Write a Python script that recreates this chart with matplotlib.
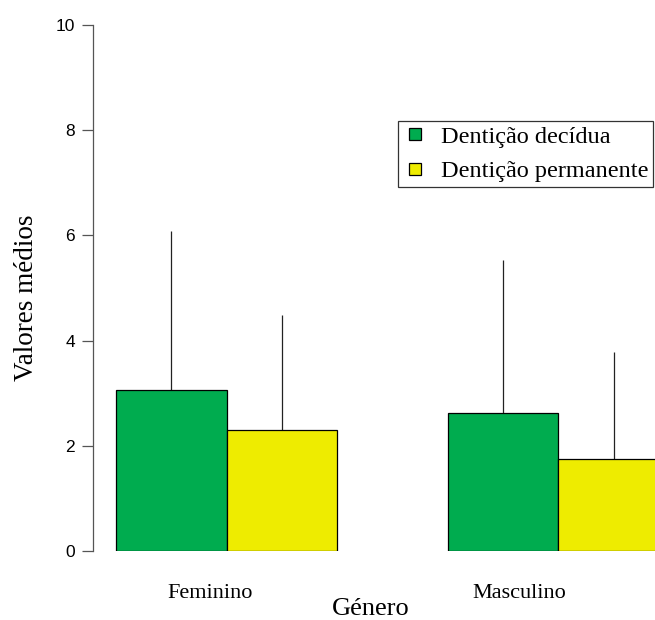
import numpy as np
import matplotlib.pyplot as plt
from matplotlib.lines import Line2D

generos = ['Feminino', 'Masculino']
series = ['Dentição decídua', 'Dentição permanente']
medias = {
    'Dentição decídua': [3.06, 2.63],
    'Dentição permanente': [2.30, 1.75],
}
limite_sup = {
    'Dentição decídua': [6.08, 5.53],
    'Dentição permanente': [4.49, 3.78],
}
cores = ['#00ac4f', '#eeec00']
yticks = [0, 2, 4, 6, 8, 10]

W, H = 655, 620
fig = plt.figure(figsize=(W / 100, H / 100), dpi=100)
ax = fig.add_axes([93 / W, 69 / H, 598 / W, 526 / H])

centros = np.array([1.0, 4.0])
for i, s in enumerate(series):
    xs = centros + (i - 0.5)
    ax.bar(xs, medias[s], width=1.0, color=cores[i], edgecolor='black',
           linewidth=0.9, zorder=2)
    ax.vlines(xs, medias[s], limite_sup[s], color='#222222', linewidth=0.9,
              zorder=1)

ax.set_xlim(-0.208, 5.2)
ax.set_ylim(0, 10)
ax.set_yticks(yticks)
ax.set_yticklabels([str(t) for t in yticks], family='Liberation Sans',
                   fontsize=12.5)
ax.tick_params(axis='y', direction='out', length=8, width=0.9,
               color='#555555', pad=5)
ax.set_xticks([])
for sp in ['top', 'right', 'bottom']:
    ax.spines[sp].set_visible(False)
ax.spines['left'].set_color('#555555')
ax.spines['left'].set_linewidth(0.9)

# nomes dos grupos um pouco à esquerda do centro, como no R
for c, g in zip(centros - np.array([0.15, 0.35]), generos):
    ax.text(c, -0.8, g, ha='center', va='center',
            family='Liberation Serif', fontsize=16)

fig.text(371 / W, 1 - 609 / H, 'Género', ha='center', va='center',
         family='Liberation Serif', fontsize=19)
fig.text(27 / W, 1 - 298 / H, 'Valores médios', ha='center', va='center',
         rotation=90, family='Liberation Serif', fontsize=19.5)

handles = [Line2D([], [], marker='s', linestyle='none', markersize=9,
                  markerfacecolor=c, markeredgecolor='black',
                  markeredgewidth=0.9) for c in cores]
leg = fig.legend(handles, series, loc='upper left',
                 bbox_to_anchor=(398 / W, 1 - 121 / H),
                 prop={'family': 'Liberation Serif', 'size': 17.5},
                 frameon=True, fancybox=False, handlelength=1.0,
                 handletextpad=0.55, borderpad=0.2, labelspacing=0.5,
                 borderaxespad=0)
leg.get_frame().set_edgecolor('black')
leg.get_frame().set_linewidth(0.9)

fig.savefig('out.png', dpi=100)
